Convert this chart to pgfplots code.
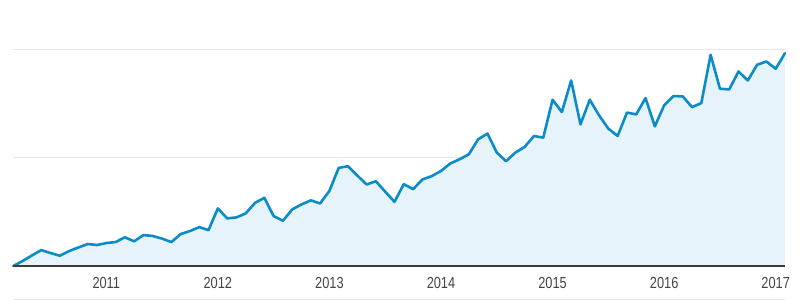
\documentclass[border=0pt]{standalone}
\usepackage{fontspec}
\setmainfont{Liberation Sans}
\usepackage{pgfplots}
\usepackage{pgfplotstable}
\pgfplotsset{compat=1.18}
\definecolor{gaLine}{HTML}{0A8CC8}
\definecolor{gaFill}{HTML}{E7F3FA}
\definecolor{gaGrid}{HTML}{E6E6E6}
\definecolor{gaBase}{HTML}{3C3C3C}
\definecolor{gaText}{HTML}{444444}
\pgfplotstableread{
i v
0 0
1 46
2 97
3 147
4 120
5 95
6 138
7 171
8 203
9 194
10 212
11 221
12 265
13 228
14 286
15 277
16 253
17 221
18 295
19 323
20 359
21 332
22 532
23 440
24 449
25 486
26 583
27 630
28 461
29 418
30 523
31 569
32 606
33 578
34 694
35 906
36 922
37 836
38 753
39 783
40 687
41 593
42 756
43 710
44 799
45 830
46 878
47 947
48 986
49 1032
50 1171
51 1223
52 1048
53 968
54 1048
55 1100
56 1201
57 1186
58 1536
59 1422
60 1714
61 1309
62 1536
63 1392
64 1269
65 1201
66 1417
67 1401
68 1551
69 1290
70 1484
71 1570
72 1567
73 1468
74 1505
75 1951
76 1638
77 1631
78 1797
79 1714
80 1859
81 1889
82 1822
83 1966
}\datatable
\begin{document}
\begin{tikzpicture}
\begin{axis}[
  scale only axis,
  width=771.7bp, height=216.5bp,
  xmin=0, xmax=83, ymin=0, ymax=2000,
  clip=false,
  axis line style={draw=none},
  tick style={draw=none},
  ytick={1000,2000}, yticklabels={},
  ymajorgrids,
  grid style={gaGrid, line width=1.3bp},
  xtick={10,22,34,46,58,70,82},
  xticklabels={2011,2012,2013,2014,2015,2016,2017},
  xticklabel style={anchor=north, inner sep=0pt, yshift=-11bp, text=gaText,
    font=\fontsize{16bp}{17bp}\selectfont, xscale=0.8},
]
\addplot[fill=gaFill, draw=none] table[x=i, y=v] {\datatable} \closedcycle;
\addplot[gaLine, line width=2.6bp, line join=round, line cap=round] table[x=i, y=v] {\datatable};
\draw[gaBase, line width=1.5bp] (rel axis cs:0,0) -- (rel axis cs:1,0);
\draw[gaGrid, line width=1bp] ([yshift=-33bp]rel axis cs:0,0) -- ([yshift=-33bp]rel axis cs:1,0);
\coordinate (O) at (rel axis cs:0,0);
\coordinate (T) at (rel axis cs:1,1);
\end{axis}
\pgfresetboundingbox
\path[use as bounding box] ([shift={(-13.3bp,-34bp)}]O) rectangle ([shift={(15bp,49.5bp)}]T);
\end{tikzpicture}
\end{document}
